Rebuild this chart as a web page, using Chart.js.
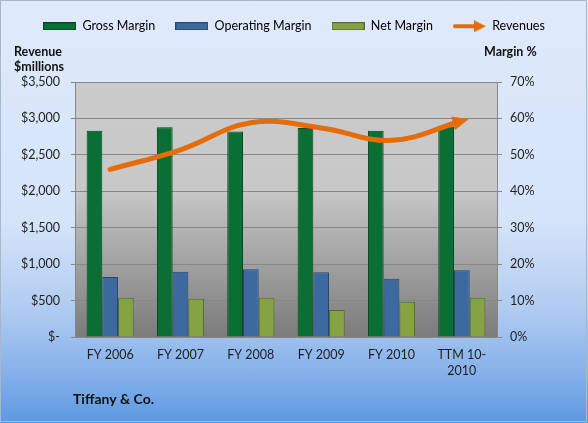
<!DOCTYPE html>
<html>
<head>
<meta charset="utf-8">
<script src="https://cdn.jsdelivr.net/npm/chart.js@4.4.0/dist/chart.umd.min.js"></script>
<style>
  body { margin: 0; background: #fff; }
  #chart {
    display: block;
    background: linear-gradient(to bottom, #dfeafb 0%, #d5e4f9 52%, #b3cdf1 72%, #86b1ea 88%, #5e98e1 100%);
  }
</style>
</head>
<body>
<canvas id="chart" width="588" height="423"></canvas>
<script>
const categories = ['FY 2006', 'FY 2007', 'FY 2008', 'FY 2009', 'FY 2010', ['TTM 10-', '2010']];
const grossMargin = [56.6, 57.6, 56.4, 57.4, 56.6, 57.8];
const operatingMargin = [16.5, 17.9, 18.6, 17.8, 16.0, 18.3];
const netMargin = [10.8, 10.5, 10.8, 7.4, 9.7, 10.8];
const revenues = [2300, 2570, 2940, 2870, 2700, 2965];

const revenueMax = 3500;
const revenueStep = 500;
const marginMax = 70;
const marginStep = 10;

const FONT = 'Lato, "Open Sans", sans-serif';
const ORANGE = '#e46c0a';
const GRID = '#878787';

Chart.defaults.font.family = FONT;
Chart.defaults.font.size = 12.5;
Chart.defaults.color = '#1e1e1e';

// small canvases used as legend markers
function barSwatch(fill, edge) {
  const c = document.createElement('canvas');
  c.width = 33; c.height = 8;
  const g = c.getContext('2d');
  g.fillStyle = edge;
  g.fillRect(0, 0, 33, 8);
  g.fillStyle = fill;
  g.fillRect(1, 1, 31, 6);
  return c;
}
function arrowSwatch() {
  const c = document.createElement('canvas');
  c.width = 33; c.height = 12;
  const g = c.getContext('2d');
  g.strokeStyle = ORANGE;
  g.lineWidth = 4;
  g.lineCap = 'round';
  g.beginPath(); g.moveTo(2, 6); g.lineTo(24, 6); g.stroke();
  g.fillStyle = ORANGE;
  g.beginPath(); g.moveTo(33, 6); g.lineTo(21, 0); g.lineTo(21, 12); g.closePath(); g.fill();
  return c;
}

const legendMarks = [
  barSwatch('#0b6e35', '#05451f'),
  barSwatch('#3c6aa0', '#27476d'),
  barSwatch('#86a344', '#566c2b'),
  arrowSwatch()
];

// leave room under the legend for the axis captions
const legendGap = {
  id: 'legendGap',
  beforeInit(chart) {
    const fit = chart.legend.fit;
    chart.legend.fit = function () {
      fit.call(this);
      this.height += 39.5;
    };
  }
};

// gray gradient behind the plot
const plotBackground = {
  id: 'plotBackground',
  beforeDraw(chart) {
    const {ctx, chartArea: a} = chart;
    const grad = ctx.createLinearGradient(0, a.top, 0, a.bottom);
    grad.addColorStop(0, '#cbcbcb');
    grad.addColorStop(0.42, '#c8c8c8');
    grad.addColorStop(1, '#7b7b7b');
    ctx.save();
    ctx.fillStyle = grad;
    ctx.fillRect(a.left, a.top, a.right - a.left, a.bottom - a.top);
    ctx.restore();
  }
};

// arrow head at the end of the revenue line
const arrowHead = {
  id: 'arrowHead',
  afterDatasetsDraw(chart) {
    const meta = chart.getDatasetMeta(3);
    const p = meta.data[meta.data.length - 1];
    if (!p) return;
    let dx = p.x - p.cp1x, dy = p.y - p.cp1y;
    const len = Math.hypot(dx, dy) || 1;
    dx /= len; dy /= len;
    const tipX = p.x + dx * 7, tipY = p.y + dy * 7;
    const baseX = tipX - dx * 16, baseY = tipY - dy * 16;
    const ctx = chart.ctx;
    ctx.save();
    ctx.fillStyle = ORANGE;
    ctx.beginPath();
    ctx.moveTo(tipX, tipY);
    ctx.lineTo(baseX - dy * 7, baseY + dx * 7);
    ctx.lineTo(baseX + dy * 7, baseY - dx * 7);
    ctx.closePath();
    ctx.fill();
    ctx.restore();
  }
};

// axis captions, company name and frame
const captions = {
  id: 'captions',
  afterDraw(chart) {
    const ctx = chart.ctx;
    ctx.save();
    ctx.fillStyle = '#111';
    ctx.textBaseline = 'middle';
    ctx.font = 'bold 12.5px ' + FONT;
    ctx.fillText('Revenue', 14, 52);
    ctx.fillText('$millions', 14, 67);
    ctx.fillText('Margin %', 484, 52);
    ctx.font = 'bold 14px ' + FONT;
    ctx.fillText('Tiffany & Co.', 73, 399);
    ctx.strokeStyle = '#a9b7cb';
    ctx.lineWidth = 1;
    ctx.strokeRect(0.5, 0.5, chart.width - 2, chart.height - 2);
    ctx.restore();
  }
};

new Chart(document.getElementById('chart'), {
  data: {
    labels: categories,
    datasets: [
      {
        type: 'bar',
        label: 'Gross Margin',
        data: grossMargin,
        yAxisID: 'y1',
        backgroundColor: '#0b6e35',
        borderColor: '#05451f',
        borderWidth: 1,
        order: 1
      },
      {
        type: 'bar',
        label: 'Operating Margin',
        data: operatingMargin,
        yAxisID: 'y1',
        backgroundColor: '#3c6aa0',
        borderColor: '#27476d',
        borderWidth: 1,
        order: 1
      },
      {
        type: 'bar',
        label: 'Net Margin',
        data: netMargin,
        yAxisID: 'y1',
        backgroundColor: '#86a344',
        borderColor: '#566c2b',
        borderWidth: 1,
        order: 1
      },
      {
        type: 'line',
        label: 'Revenues',
        data: revenues,
        yAxisID: 'y',
        borderColor: ORANGE,
        borderWidth: 5,
        borderCapStyle: 'round',
        tension: 0.4,
        pointRadius: 0,
        fill: false,
        order: 0
      }
    ]
  },
  options: {
    responsive: false,
    animation: false,
    datasets: {
      bar: { categoryPercentage: 0.67, barPercentage: 1.0 }
    },
    layout: { padding: 0 },
    plugins: {
      tooltip: { enabled: false },
      legend: {
        position: 'top',
        labels: {
          usePointStyle: true,
          pointStyleWidth: 33,
          padding: 20,
          color: '#1e1e1e',
          generateLabels(chart) {
            return chart.data.datasets.map((ds, i) => ({
              text: ds.label,
              pointStyle: legendMarks[i],
              fillStyle: 'transparent',
              strokeStyle: 'transparent',
              lineWidth: 0,
              hidden: false,
              datasetIndex: i
            }));
          }
        }
      }
    },
    scales: {
      x: {
        grid: { display: true, drawOnChartArea: false, drawTicks: false },
        border: { display: true, color: GRID },
        ticks: { padding: 10, font: { lineHeight: 1.3 } },
        afterFit(scale) { scale.height = 86; }
      },
      y: {
        position: 'left',
        min: 0,
        max: revenueMax,
        grid: { color: GRID, tickLength: 4, tickColor: GRID },
        border: { display: true, color: GRID },
        ticks: {
          stepSize: revenueStep,
          padding: 11,
          callback: v => v === 0 ? '$-' : '$' + v.toLocaleString('en-US')
        },
        afterFit(scale) { scale.width = 75; }
      },
      y1: {
        position: 'right',
        min: 0,
        max: marginMax,
        grid: { drawOnChartArea: false, tickLength: 5, tickColor: GRID },
        border: { display: true, color: GRID },
        ticks: {
          stepSize: marginStep,
          padding: 8,
          callback: v => v + '%'
        },
        afterFit(scale) { scale.width = 91; }
      }
    }
  },
  plugins: [legendGap, plotBackground, arrowHead, captions]
});
</script>
</body>
</html>
